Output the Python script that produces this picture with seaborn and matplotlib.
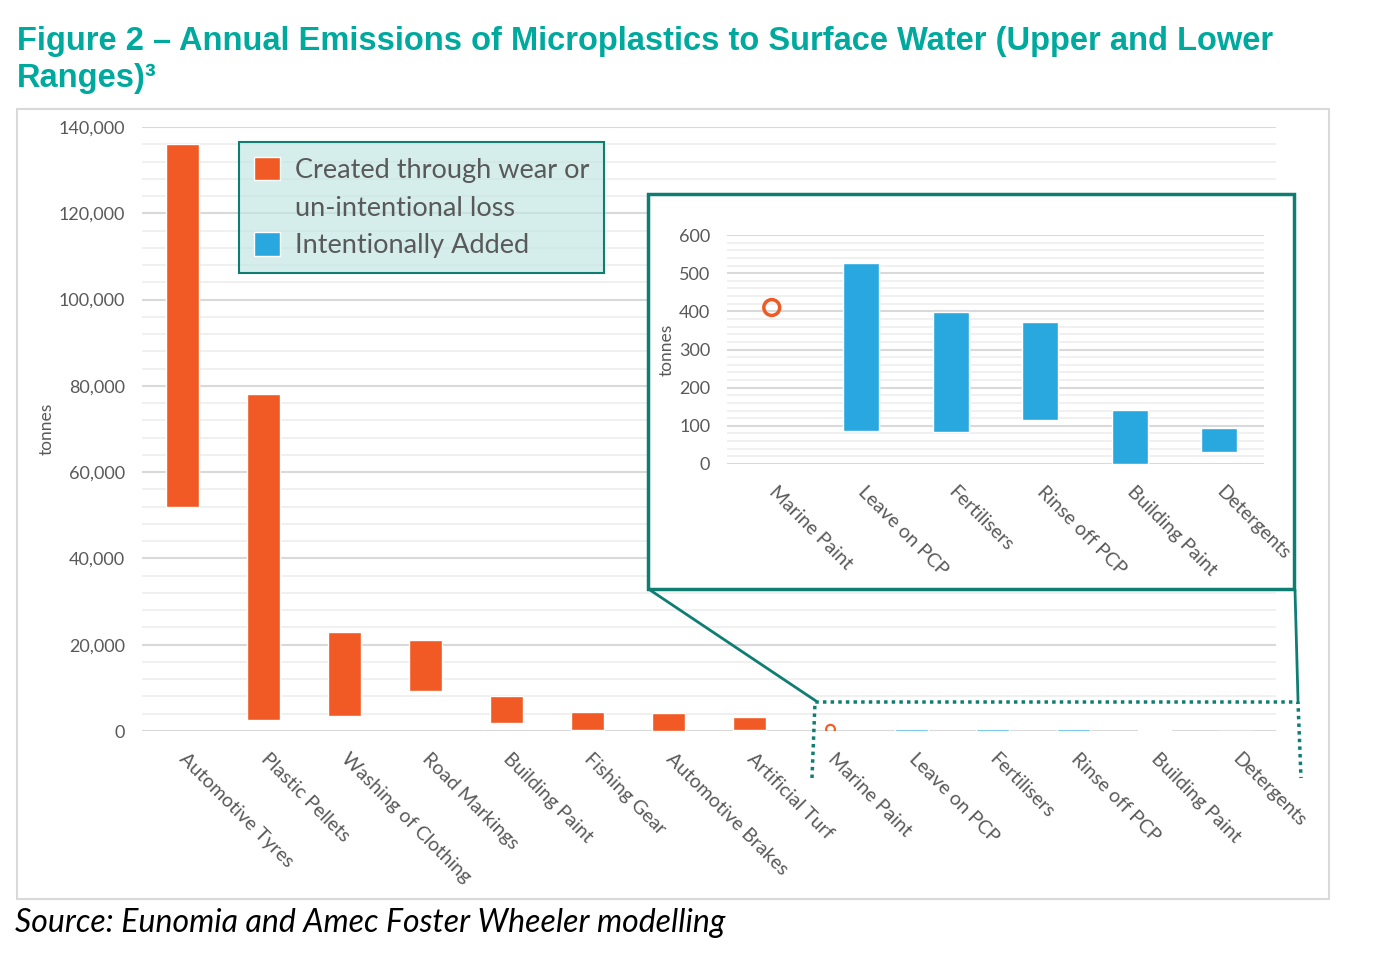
import matplotlib
matplotlib.use('Agg')
import pandas as pd
import matplotlib.pyplot as plt
from matplotlib.patches import Patch, Rectangle
from matplotlib.lines import Line2D
from matplotlib.ticker import MultipleLocator, FuncFormatter
from matplotlib.transforms import ScaledTranslation
import seaborn as sns

sns.set_theme(style='white')
plt.rcParams['font.family'] = ['Lato', 'DejaVu Sans']

# --- data (tonnes per year, lower / upper range) ---
main_labels = ['Automotive Tyres', 'Plastic Pellets', 'Washing of Clothing',
               'Road Markings', 'Building Paint', 'Fishing Gear',
               'Automotive Brakes', 'Artificial Turf', 'Marine Paint',
               'Leave on PCP', 'Fertilisers', 'Rinse off PCP',
               'Building Paint', 'Detergents']
wear_lower = [52000, 2600, 3500, 9300, 1900, 300, 100, 300]
wear_upper = [136000, 78000, 23000, 21000, 8100, 4400, 4200, 3200]
marine_paint = 410
intent_labels = ['Leave on PCP', 'Fertilisers', 'Rinse off PCP',
                 'Building Paint', 'Detergents']
intent_lower = [86, 84, 115, 0, 31]
intent_upper = [527, 398, 372, 141, 94]
inset_labels = ['Marine Paint'] + intent_labels

ORANGE = '#F15A24'
BLUE = '#29A8E0'
TEAL = '#0E7D72'
TITLE_TEAL = '#00A99D'
GREY = '#595959'

W, H = 1383, 958
fig = plt.figure(figsize=(W / 100, H / 100), dpi=100)


def box(x0, y0, x1, y1):
    # pixel box (origin top-left) -> figure fraction rect
    return [x0 / W, 1 - y1 / H, (x1 - x0) / W, (y1 - y0) / H]


def pt(x, y):
    return x / W, 1 - y / H


def style_axis(ax, major, minor, fmt, lab_size):
    ax.yaxis.set_major_locator(MultipleLocator(major))
    ax.yaxis.set_minor_locator(MultipleLocator(minor))
    ax.yaxis.set_major_formatter(FuncFormatter(fmt))
    ax.grid(which='major', axis='y', color='#D9D9D9', lw=1.5)
    ax.grid(which='minor', axis='y', color='#EDEDED', lw=1.2)
    ax.set_axisbelow(True)
    ax.tick_params(which='both', length=0)
    ax.tick_params(axis='y', labelsize=lab_size, labelcolor=GREY, pad=12)
    for s in ax.spines.values():
        s.set_visible(False)
    ax.set_xlabel('')
    ax.set_ylabel('tonnes', fontsize=12.5, color=GREY, labelpad=3)


def draw_ranges(ax, keys, lows, highs, marine_key, marine_s, marine_lw):
    wear = pd.DataFrame({'key': keys[0], 'lower': lows[0], 'upper': highs[0]})
    wear['span'] = wear['upper'] - wear['lower']
    intent = pd.DataFrame({'key': keys[1], 'lower': lows[1], 'upper': highs[1]})
    intent['span'] = intent['upper'] - intent['lower']
    order = keys[2]
    if len(wear):
        sns.barplot(data=wear, x='key', y='span', order=order,
                    bottom=wear['lower'].values, color=ORANGE, saturation=1,
                    width=0.4, errorbar=None, ax=ax)
    sns.barplot(data=intent, x='key', y='span', order=order,
                bottom=intent['lower'].values, color=BLUE, saturation=1,
                width=0.4, errorbar=None, ax=ax)
    marine = pd.DataFrame({'key': [marine_key], 'value': [marine_paint]})
    sns.scatterplot(data=marine, x='key', y='value', ax=ax, marker='o',
                    s=marine_s, facecolor='none', edgecolor=ORANGE,
                    linewidth=marine_lw, zorder=5)


def rotate_labels(ax, labels, dx, dy):
    ax.set_xticks(range(len(labels)))
    ax.set_xticklabels(labels, rotation=-45, ha='left', va='center',
                       rotation_mode='anchor', fontsize=14, color=GREY)
    off = ScaledTranslation(dx / 100, dy / 100, fig.dpi_scale_trans)
    for t in ax.get_xticklabels():
        t.set_transform(t.get_transform() + off)


# outer light frame
fig.add_artist(Rectangle(pt(17, 899), 1312 / W, 790 / H, fill=False,
                         edgecolor='#D9D9D9', lw=1.5, zorder=-1))

# --- main chart ---
keys = [f'c{i}' for i in range(len(main_labels))]
ax = fig.add_axes(box(142, 127, 1276, 731))
draw_ranges(ax, (keys[:8], keys[9:], keys), (wear_lower, intent_lower),
            (wear_upper, intent_upper), keys[8], 40, 1.5)
ax.set_ylim(0, 140000)
ax.set_xlim(-0.5, len(keys) - 0.5)
style_axis(ax, 20000, 4000, lambda v, p: f'{v:,.0f}', 13)
rotate_labels(ax, main_labels, 0, -20)

handles = [Patch(facecolor=ORANGE, label='Created through wear or'),
           Patch(facecolor='none', edgecolor='none', label='un-intentional loss'),
           Patch(facecolor=BLUE, label='Intentionally Added')]
leg = ax.legend(handles=handles, loc='upper left',
                bbox_to_anchor=pt(239, 142), bbox_transform=fig.transFigure,
                borderaxespad=0, fontsize=19.5, labelcolor=GREY, fancybox=False,
                handlelength=0.95, handleheight=0.95, handletextpad=0.55,
                borderpad=0.55, labelspacing=0.43, frameon=True)
frame = leg.get_frame()
frame.set_alpha(None)
frame.set_facecolor((0.75, 0.90, 0.886, 0.65))
frame.set_edgecolor(TEAL)
frame.set_linewidth(1.5)

# --- inset frame and zoom connectors ---
fig.add_artist(Rectangle(pt(648, 589), 646 / W, 395 / H, facecolor='white',
                         edgecolor=TEAL, lw=2.5, zorder=1))
for a, b in [((650, 590), (816, 701)), ((1295, 590), (1298, 700))]:
    fig.add_artist(Line2D([pt(*a)[0], pt(*b)[0]], [pt(*a)[1], pt(*b)[1]],
                          color=TEAL, lw=2, zorder=1))
dotted = [(812, 778), (815, 702), (1298, 702), (1301, 778)]
fig.add_artist(Line2D([pt(*q)[0] for q in dotted], [pt(*q)[1] for q in dotted],
                      color=TEAL, lw=2.5, ls=(0, (1, 1.2)), zorder=1))

# --- inset chart ---
ikeys = [f'i{i}' for i in range(len(inset_labels))]
ax2 = fig.add_axes(box(727, 235, 1264, 464), zorder=2)
ax2.patch.set_alpha(0)
draw_ranges(ax2, ([], ikeys[1:], ikeys), ([], intent_lower), ([], intent_upper),
            ikeys[0], 130, 2.5)
ax2.set_ylim(0, 600)
ax2.set_xlim(-0.5, len(ikeys) - 0.5)
style_axis(ax2, 100, 20, lambda v, p: f'{v:.0f}', 13)
rotate_labels(ax2, inset_labels, 0, -20)

# --- titles ---
title_font = dict(ha='left', va='baseline', fontsize=23.5, fontweight='bold',
                  color=TITLE_TEAL,
                  family=['Liberation Sans Narrow', 'Liberation Sans', 'DejaVu Sans'])
fig.text(*pt(17, 50), 'Figure 2 – Annual Emissions of Microplastics to Surface '
         'Water (Upper and Lower', **title_font)
fig.text(*pt(17, 87), 'Ranges)³', **title_font)
fig.text(*pt(15, 923), 'Source: Eunomia and Amec Foster Wheeler modelling',
         ha='left', va='center', fontsize=23, style='italic', color='black')

fig.savefig('out.png', dpi=100)
